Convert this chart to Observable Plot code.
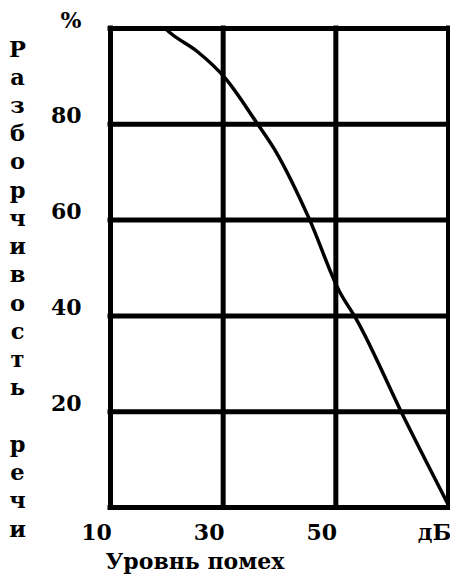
<!DOCTYPE html>
<html>
<head>
<meta charset="utf-8">
<script src="https://cdn.jsdelivr.net/npm/d3@7"></script>
<script src="https://cdn.jsdelivr.net/npm/@observablehq/plot@0.6"></script>
<style>
  html, body { margin: 0; padding: 0; background: #fff; }
  svg { display: block; }
  svg text { font-family: "DejaVu Serif", "Liberation Serif", serif !important; font-weight: bold; }
</style>
</head>
<body>
<div id="chart"></div>
<script>
// Data
const noiseDb = [19.9, 20.8, 25.4, 30.4, 35.8, 39.3, 45.3, 50.6, 53.6, 62.1, 70];
const intelligibility = [99.8, 98.9, 95.2, 89.6, 80.6, 74.4, 60.2, 45.2, 39.4, 18.8, 0.5];

const xTicks = [10, 30, 50, 70];
const xTickLabels = ["10", "30", "50", "дБ"];
const yGrid = [0, 20, 40, 60, 80, 100];
const yTicks = [20, 40, 60, 80, 100];
const yTickLabels = ["20", "40", "60", "80", "%"];
const yTitle = "Разборчивость речи";
const xTitle = "Уровнь помех";

const curve = noiseDb.map((x, i) => ({x, y: intelligibility[i]}));
const yTitleStacked = Array.from(yTitle).map(c => c === " " ? "\u00a0" : c).join("\n");

const font = "DejaVu Serif";

const chart = Plot.plot({
  width: 450,
  height: 576,
  marginTop: 28,
  marginBottom: 69,
  marginLeft: 110,
  marginRight: 2,
  style: {fontFamily: font, fontWeight: "bold", fontSize: "22px", color: "#000", background: "#fff"},
  x: {domain: [10, 70]},
  y: {domain: [0, 100]},
  marks: [
    Plot.ruleY(yGrid, {stroke: "#000", strokeWidth: 5, strokeLinecap: "square"}),
    Plot.ruleX(xTicks, {stroke: "#000", strokeWidth: 5, strokeLinecap: "square"}),
    Plot.line(curve, {x: "x", y: "y", stroke: "#000", strokeWidth: 3.5, curve: "monotone-x"}),
    Plot.axisY(yTicks, {
      tickSize: 0, tickPadding: 29, dy: -8,
      tickFormat: d => yTickLabels[yTicks.indexOf(d)],
      fontSize: 22, fontWeight: "bold", fontFamily: font, label: null
    }),
    Plot.axisX(xTicks, {
      tickSize: 0, tickPadding: 17, dx: -14,
      tickFormat: d => xTickLabels[xTicks.indexOf(d)],
      fontSize: 22, fontWeight: "bold", fontFamily: font, label: null
    }),
    Plot.text([yTitleStacked], {
      frameAnchor: "top-left", text: d => d, dx: -93, dy: 8,
      lineAnchor: "top", textAnchor: "middle", lineHeight: 1.255,
      fontSize: 22.5, fontWeight: "bold", fontFamily: font
    }),
    Plot.text([xTitle], {
      frameAnchor: "bottom-left", text: d => d, dx: -5, dy: 61,
      lineAnchor: "bottom", textAnchor: "start",
      fontSize: 22, fontWeight: "bold", fontFamily: font
    })
  ]
});
document.getElementById("chart").appendChild(chart);
</script>
</body>
</html>
